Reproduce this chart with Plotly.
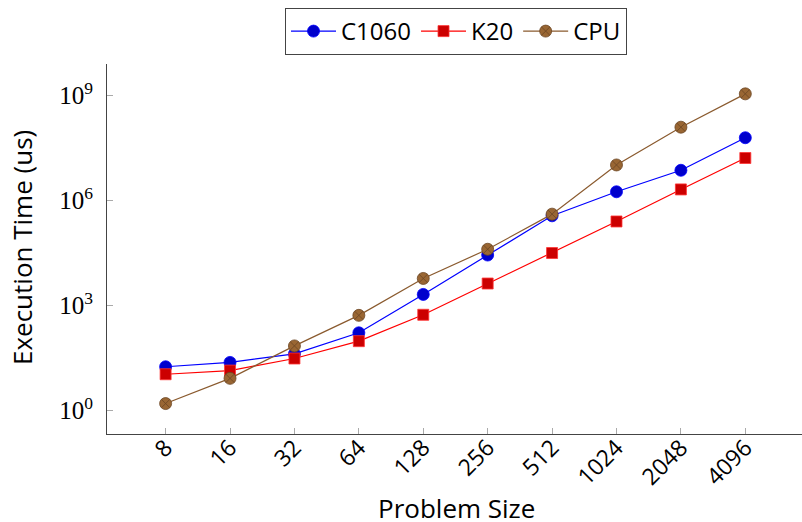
import plotly.graph_objects as go

sizes = ["8", "16", "32", "64", "128", "256", "512", "1024", "2048", "4096"]
c1060 = [18, 24, 42, 168, 2100, 28000, 370000, 1.8e6, 7.4e6, 6.3e7]
k20 = [11, 14, 31, 97, 550, 4300, 32000, 2.55e5, 2.1e6, 1.66e7]
cpu = [1.6, 8.4, 71, 530, 6000, 41000, 413000, 1.05e7, 1.26e8, 1.13e9]

y_tickvals = [1, 1e3, 1e6, 1e9]
y_ticktext = ["10<sup>0</sup>", "10<sup>3</sup>", "10<sup>6</sup>", "10<sup>9</sup>"]

SANS = "Open Sans, Noto Sans, sans-serif"

fig = go.Figure()
fig.add_trace(go.Scatter(
    x=sizes, y=c1060, name="C1060", mode="lines+markers",
    line=dict(color="#0000ff", width=1.2),
    marker=dict(symbol="circle", size=12, color="#0000cc", line=dict(color="#0000ff", width=0.8)),
))
fig.add_trace(go.Scatter(
    x=sizes, y=k20, name="K20", mode="lines+markers",
    line=dict(color="#ff0000", width=1.2),
    marker=dict(symbol="square", size=11, color="#cc0000", line=dict(color="#ff3333", width=0.8)),
))
fig.add_trace(go.Scatter(
    x=sizes, y=cpu, name="CPU", mode="lines+markers",
    line=dict(color="#8a5a2e", width=1.2),
    marker=dict(symbol="circle-x", size=12, color="#996633", line=dict(color="#6b4523", width=0.8)),
))

fig.update_layout(
    width=802, height=522,
    margin=dict(l=107, r=0, t=64, b=88, autoexpand=False),
    paper_bgcolor="white", plot_bgcolor="white",
    font=dict(family=SANS, size=23, color="black"),
    showlegend=True,
    legend=dict(
        orientation="h", x=456 / 802, xref="container", xanchor="center",
        y=1 - 8 / 522, yref="container", yanchor="top",
        bordercolor="#444", borderwidth=1, bgcolor="white",
        font=dict(family=SANS, size=24), tracegroupgap=0, itemwidth=45,
    ),
    xaxis=dict(
        type="category", range=[-0.91, 9.88], automargin=False,
        showline=True, linecolor="#444", linewidth=1.2,
        ticks="inside", ticklen=6, tickcolor="#aaa", tickwidth=1,
        tickangle=-45, showgrid=False, zeroline=False,
        tickfont=dict(family=SANS, size=23), ticklabelstandoff=-10,
    ),
    yaxis=dict(
        type="log", range=[-0.666, 9.906], automargin=False,
        showline=True, linecolor="#444", linewidth=1.2,
        ticks="inside", ticklen=6, tickcolor="#aaa", tickwidth=1,
        tickvals=y_tickvals, ticktext=y_ticktext,
        tickfont=dict(family="Liberation Serif, DejaVu Serif, serif", size=25),
        showgrid=False, zeroline=False, ticklabelstandoff=8,
    ),
    annotations=[
        dict(text="Problem Size", x=456, y=508, xref="paper", yref="paper",
             showarrow=False, font=dict(family=SANS, size=26)),
        dict(text="Execution Time (us)", textangle=-90, x=22, y=248,
             xref="paper", yref="paper", showarrow=False,
             font=dict(family=SANS, size=26)),
    ],
)
# convert annotation pixel positions to paper fractions
pw, ph = 802 - 107, 522 - 64 - 88
for a in fig.layout.annotations:
    a.x = (a.x - 107) / pw
    a.y = (522 - 88 - a.y) / ph
    a.xanchor = "center"
    a.yanchor = "middle"

fig.write_html(
    "out.html",
    config={"displayModeBar": False},
    post_script="document.body.style.margin='0';document.body.style.overflow='hidden';",
)
